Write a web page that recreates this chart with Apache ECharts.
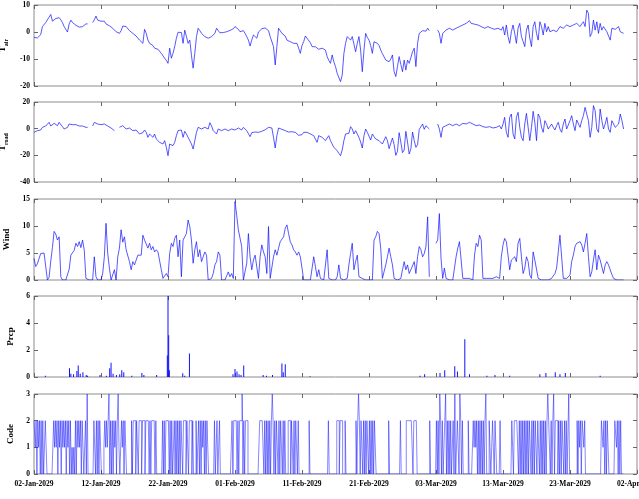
<!DOCTYPE html>
<html>
<head>
<meta charset="utf-8">
<script src="https://cdn.jsdelivr.net/npm/echarts@6/dist/echarts.min.js"></script>
<style>
  html, body { margin: 0; padding: 0; background: #fff; }
  #chart { width: 639px; height: 499px; }
</style>
</head>
<body>
<div id="chart"></div>
<script>
// time axis: days since 02-Jan-2029 00:00
const startDate = Date.UTC(2029, 0, 2)
const xTickDays = [0, 10, 20, 30, 40, 50, 60, 70, 80, 90]
const stepHours = 6          // T_air, T_road, Wind sampling
const codeStepHours = 3      // Code sampling

const tAirTicks = [-20, -10, 0, 10]
const tRoadTicks = [-40, -20, 0, 20]
const windTicks = [0, 5, 10, 15]
const prcpTicks = [0, 2, 4, 6]
const codeTicks = [0, 1, 2, 3]

// 6-hourly air temperature
const tAir = [
  -2,-2,-2.2,-2, -1,2,2.5,3.5, 4,5.5,6.5,4, 4.5,5,5,5.3, 4.5,3.5,2,1, 0,3,4.4,3.5, 3,2.5,2,1.8, 1.7,2,2.6,3, 3,null,null,3.5, 4.5,5.9,4.4,3.8,
  4,4.7,4,3, 2.8,2.3,1.8,1.4, 1,0.1,-0.3,-0.5, 0.5,2.2,2.2,2, 1.5,0.5,0,-0.5, -1,-1.5,-2,-3, -3.5,-4.2,1,-0.5, -3,-4.2,-4.8,-5, -6,-6.2,-6.4,-7, -7.9,-8.5,-9.7,-10.5,
  -11.6,-6,-9.7,-7.9, -5.4,-2.3,-0.1,0, -0.2,-4.2,0.7,-1.7, -4.2,-3,-8.6,-13.4, -7.9,-1.7,1.4,0.5, -0.5,-1,-1.7,-2, -2.3,-2,-1.7,-2.3, -0.5,1.4,0.5,-0.3, 0.1,-0.2,-0.5,0.1, 0.7,0.6,0.5,1.2,
  2,2.2,1,0.1, 0.5,0.5,-0.5,-1.7, -3,-5.2,-3,-1.1, -1.5,-2.3,0,0.7, 1.2,1.7,1.5,1, 0.5,-1.7,-1.1,-5.4, -12.2,-5.4,1.4,1.4, -0.5,-0.5,-1.5,-3, -3.5,-3.6,-4,-4.2, -4.2,-4.2,-6,-7.9,
  -5,-3.6,-1.5,-2.3, -3,-4,-5.4,-5.4, -5.5,-6,-6.4,-6.2, -6,-6.5,-6.7,-9.1, -10.5,-11.6,-8.5,-11, -12.8,-15.3,-16,-18.4, -16,-8,-4.2,-1.7, -1.1,-3,-1.7,-2.3, -7.3,-4.2,-1.7,-6.7, -14.7,-6.7,-0.5,-2,
  -3,-5,-7.9,-3.6, -4,-4.2,-5,-6.7, -8,-8.5,-10.4,-10.8, -11,-10,-8.5,-14.7, -16.5,-12.8,-9.1,-12, -14.7,-10.4,-14.1,-10.4, -11.6,-9.5,-7.3,-6, -12.8,-4.2,-0.5,0, 0.5,0.5,0.3,1.4, 0.5,null,null,null,
  null,0.7,-0.5,-4.2, -0.5,0.1,0.7,1, 1.4,1,0.7,1, 1.4,1.7,2,2.3, 2.6,2.9,3.2,3.7, 4.2,3.2,3,2.9, 2.8,2.6,2.2,2, 1.7,1.4,1.7,2, 1.5,1.4,1,1, 1.2,1.4,1,0.7,
  2,-1.1,2.6,-1.7, -4.2,0.1,2.6,-0.5, -4.2,1.4,3.2,-1.7, -3.5,-5.4,0.7,2.6, -2.3,-5.4,2,3.8, -0.5,-3,3.8,2, -1.1,3.2,0.1,2, 0.1,0.5,0.7,0.5, 0.1,1,2,1.5, 1.4,2,2.6,2,
  2,2.5,2.6,3, 3.2,2.5,2,3, 3.8,2,8.1,6.9, -1.7,-0.5,4.4,0.7, 3.8,-0.5,3.2,0.7, 2,1.4,0.1,0.7, -3,1.4,0.7,1, 1.4,2,0.1,-0.5, -0.5
]

// 6-hourly road temperature
const tRoad = [
  -2.75,-4,-1.5,-2, -1,1,0.5,2, 3.5,4.75,2,3.5, 4,3,2.25,4.75, 3.5,1.5,-0.25,-1.5, 1,3.5,2.25,3, 3.5,3,2.25,2, 1.5,2,3,1, 1,null,null,2, 4.75,4,3.5,2.25,
  3,4,3.5,3, 2,1.5,0.5,-0.25, -1.5,null,null,1, 1.5,2.25,1,-0.25, 0,0.5,-0.5,-1.5, -1.2,-1,-2.5,-4, -5.5,-3,-1,-2.75, -6.5,-4,-5,-6.5, -4,-7.75,-9,-10.25, -11,-11.5,-9,-14,
  -20.25,-11.5,-10.25,-12.75, -10.25,-5.25,-1.5,-1.2, -1,-6.5,-2,-4, -6.5,-5.25,-11.5,-15.25, -9,-2.75,1,0.3, -0.25,0.5,1,0.3, -0.25,4.5,2,-1.5, -1,-4,-0.25,-1, -1.5,-0.5,-0.25,-1, -1.5,-0.8,-0.25,-0.6,
  -1,0,0.5,-0.2, -1,1,-0.5,-1.5, -3,-6,-3,-2, -2.5,-2.75,-2.75,-2.75, -2,-1.5,-0.8,-0.25, 1,-0.25,0.5,-6.5, -14.5,-5.25,0.5,-0.25, -0.5,-1,-1.5,-2, -2.5,-2.75,-2.3,-2, -2.75,-3.5,-5,-6.5,
  -4.5,-2.75,-2,-2.75, -3.2,-4,-4.7,-5.25, -6.5,-10.25,-5.25,-6, -6.5,-7.5,-9,-7, -5.25,-9,-11.5,-14, -15,-16.5,-18.5,-20.25, -16,-9,-4,-2.75, -3.5,1.5,-0.25,-4, -1.5,-0.25,-6.5,-10, -14.5,-5.25,-0.25,-2.75,
  -4,-8.5,-4,-6, -7.75,-8.5,-9,-10, -11.5,-13,-6,-9, -15,-16,-7,-12, -20,-17,-3,-10, -18,-16,-2,-10, -19,-15,-2.5,-9, -14,-12,-0.5,1, 3.5,-0.5,2.25,1, -0.25,null,null,null,
  null,3.5,-0.25,-6.5, 1,1.5,2.25,3, 3.5,3,2.25,3, 3.5,3,2.25,3, 4,3.8,3.5,4, 4.75,4,3.5,3, 2.25,2.5,2.75,2, 1.5,1.2,1,1.2, 1.5,1,0.5,0.8, 1,1.5,2.25,-0.25,
  3.5,8.5,-2.75,-6.5, 8.5,11,-4,-7.75, 8.5,12.25,1,-6.5, -9,3.5,11.5,1, -9,1,13,4.75, -9,11,8.5,1, -2.75,6,3.5,-0.25, -1.5,3.5,1,-1, 2.25,4.75,-0.25,-2.75, 3.5,7.25,-0.25,-1.5,
  6,9.75,3.5,-1.5, 6.5,7.25,1,6, 9.75,16,17.25,6, -6.5,1,17.25,13.5, -0.25,-2.75,14.75,6, -0.25,3.5,8.5,-0.25, -2.75,6,7.25,1, -0.25,3.5,11,6, -0.25
]

// 6-hourly wind speed
const wind = [
  4,2.5,3,2.8, 4.9,5,5,5, 0,0.5,3.5,6, 9,8.5,7.4,8, 0.6,0,0,0, 0.3,2,4.6,4.3, 5.5,6.8,6.2,7.1, 6,7.4,5.5,0.3, 0,0,0,0, 4.3,0.6,0,0,
  0,1.2,4.3,10.5, 5,2.2,0,0.3, 1.9,0,4.3,5.9, 9.3,7,8,5.6, 5.9,3.4,1.9,3.4, 2.8,3.7,4.6,4.6, 4.6,8.3,7.4,7.7, 5.9,6.8,5.6,6.2, 5.2,5.6,5.2,4.9, 1.9,0.3,0,1.2,
  0.6,4.9,6.8,6.2, 7.7,8.3,4.3,7.4, 0.6,7.4,8,8.6, 11.1,9.9,7.4,3.1, 5.6,7.1,4.3,5.6, 3.4,4.3,5.2,4.6, 0,0,0.3,1.2, 2.8,3.4,5.2,4.6, 0,0,0,0, 1.5,0.6,1.2,0.3,
  14.5,12,9.3,9.3, 6.2,0,0.3,3.1, 8.6,4.3,1.9,3.7, 4.6,4.6,0.3,4.3, 6.5,5.2,4.3,1.2, 9.9,0.3,0.3,4.3, 5.6,4.6,5.9,7.1, 7.4,8,9.6,10.2, 8.6,7.1,6.5,5.6, 5.2,4.6,5.2,4.3,
  2.2,0,0,0, 0,0,0.3,4.3, 2.5,0.6,1.9,0.3, 0,0,0.3,5.6, 0.3,0,0,0, 0,0.6,2.8,0.3, 0,0,0,0.3, 2.8,4.9,6.8,1.9, 3.4,4.6,0.6,0.3, 0.3,0,0,0,
  0,0,0,7.4, 8,9,8.6,5.9, 0.3,0.3,2.8,4.3, 5.9,4.3,2.8,0.3, 0,0,0,0.3, 1.9,3.4,1.9,2.8, 1.2,1.9,2.2,3.4, 1.2,4.3,6.2,5.6, 4.3,4.9,6.2,11.7, 0.6,null,null,null,
  6.8,7.4,12.3,4, 0.3,2.2,0.3,0, 0,0,0,0.3, 4.3,5.9,7.1,3.7, 0.3,0.3,0.3,0.3, 0.3,0.3,0,4.6, 6.8,6.2,8.3,7.4, 0.3,0.3,0.3,0.3, 0.3,0.3,0.3,0.3, 0.6,0.3,0.3,4.3,
  6.5,7.7,7.1,4.6, 1.9,3.7,3.4,4.3, 3.4,6.8,7.7,4.3, 1.2,2.2,4.3,3.4, 0.9,0.3,5.2,3.7, 3.4,0.3,0,0, 0,0,0,0, 0.3,0.3,0.3,1.2, 2.2,5.2,8.3,8, 0.3,0.3,0.3,0.6,
  0.9,3.4,4.6,6.2, 6.8,6.5,7.1,6.5, 5.2,6.8,8.6,4.3, 0.6,1.5,3.7,5.6, 1.9,4.6,3.7,3.4, 1.2,2.8,3.4,2.8, 2.5,1,0.3,0, 0,0,0,0, 0
]

// precipitation events (day offset, amount); zero elsewhere
const prcpDays = [1.7, 5.3, 5.5, 5.9, 6.4, 6.6, 6.9, 7.3, 7.8, 8.0, 9.85, 10.8, 11.3, 11.5, 11.8, 12.3, 12.8, 13.1, 13.4, 14.6, 16.1, 16.4, 18.3,
  19.9, 20.0, 20.1, 20.2, 22.2, 22.5, 23.2, 29.7, 30.0, 30.3, 30.6, 30.9, 31.3, 34.2, 34.7, 35.6, 37.0, 37.2, 37.5, 41.2,
  57.6, 58.3, 60.6, 61.3, 62.8, 63.2, 64.3, 65.0, 67.6, 68.8, 71.0, 75.5, 76.4, 77.8, 78.5, 79.3, 84.5]
const prcpValues = [0.1, 0.65, 0.25, 0.2, 0.45, 0.85, 0.25, 0.35, 0.15, 0.1, 0.15, 0.1, 0.65, 1.05, 0.25, 0.15, 0.2, 0.5, 0.35, 0.1, 0.3, 0.15, 0.15,
  1.6, 6.0, 3.1, 0.5, 0.27, 0.1, 1.75, 0.2, 0.6, 0.4, 0.2, 0.15, 0.85, 0.15, 0.1, 0.15, 1.0, 0.35, 0.95, 0.05,
  0.1, 0.2, 0.3, 0.5, 0.8, 0.4, 2.8, 0.2, 0.1, 0.15, 0.1, 0.2, 0.3, 0.35, 0.2, 0.3, 0.1]

// 3-hourly weather code, one string per day
const codeDays = [
  '22120212','02020021','00000000','21212021','20212120','21202010','10202121','20210020','30000000','22020202',
  '10001212','12302020','21202310','02120210','00000202','22022022','20222022','22020222','20200000','00202022',
  '22020200','20202020','22022202','20222020','00201202','02120202','20000000','20020020','00000000','00000202',
  '22202022','23020222','00000000','00000022','22202020','20202320','20220202','20202000','22202202','02202000',
  '00000000','02000000','00000000','00000000','20000000','00222022','20002000','00000000','02023202','20202022',
  '02020202','20000000','00000000','20000000','00000020','00000222','22222022','22000000','00000000','02000000',
  '02020320','20023020','20200203','00220320','20000002','00000212','12020202','02023000','21012102','10000200',
  '00000000','00022022','22202020','20202020','22020202','20220202','02020232','20202302','22020202','20202003',
  '00000000','02021202','21200000','00000000','00000022','12020210','00000022','12020200','0'
]

const FONT = 'Liberation Serif'
const MON = ['Jan', 'Feb', 'Mar', 'Apr', 'May', 'Jun', 'Jul', 'Aug', 'Sep', 'Oct', 'Nov', 'Dec']
const LINE = '#1010ff'

function dayLabel(v) {
  const dt = new Date(startDate + v * 864e5)
  return String(dt.getUTCDate()).padStart(2, '0') + '-' + MON[dt.getUTCMonth()] + '-' + dt.getUTCFullYear()
}

function regular(values, hours) {
  return values.map((v, i) => [i * hours / 24, v])
}

const codeValues = codeDays.join('').split('').map(Number)

const panels = [
  { name: '{t|T}{s|air}', ticks: tAirTicks, top: 5, height: 81, data: regular(tAir, stepHours) },
  { name: '{t|T}{s|road}', ticks: tRoadTicks, top: 102, height: 80, data: regular(tRoad, stepHours) },
  { name: '{t|Wind}', ticks: windTicks, top: 199, height: 81, data: regular(wind, stepHours) },
  { name: '{t|Prcp}', ticks: prcpTicks, top: 296, height: 81, data: prcpDays.map((d, i) => [d, prcpValues[i]]), bar: true },
  { name: '{t|Code}', ticks: codeTicks, top: 394, height: 80, data: regular(codeValues, codeStepHours), step: 'middle' }
]

const tickStyle = { inside: true, length: 4, lineStyle: { color: '#666', width: 1 } }
const labelStyle = { fontFamily: FONT, fontWeight: 'bold', fontSize: 7.5, color: '#000' }

const grid = []
const xAxis = []
const yAxis = []
const series = []

panels.forEach((p, i) => {
  grid.push({
    left: 34, right: 2, top: p.top, height: p.height, outerBoundsMode: 'none',
    show: true, borderColor: '#8c8c8c', borderWidth: 1, backgroundColor: '#fff'
  })
  const xBase = {
    gridIndex: i, type: 'value', min: xTickDays[0], max: xTickDays[xTickDays.length - 1],
    interval: xTickDays[1] - xTickDays[0],
    axisLine: { show: false, onZero: false }, axisTick: tickStyle, splitLine: { show: false }
  }
  xAxis.push(Object.assign({}, xBase, {
    position: 'bottom',
    axisLabel: Object.assign({
      show: i === panels.length - 1, margin: 6, formatter: dayLabel,
      showMaxLabel: true, alignMinLabel: 'center', alignMaxLabel: 'center', hideOverlap: false
    }, labelStyle)
  }))
  xAxis.push(Object.assign({}, xBase, { position: 'top', axisLabel: { show: false } }))

  const yBase = {
    gridIndex: i, type: 'value', min: p.ticks[0], max: p.ticks[p.ticks.length - 1],
    interval: p.ticks[1] - p.ticks[0],
    axisLine: { show: false, onZero: false }, axisTick: tickStyle, splitLine: { show: false }
  }
  yAxis.push(Object.assign({}, yBase, {
    position: 'left',
    name: p.name, nameLocation: 'middle', nameGap: 19, nameRotate: 90,
    nameTextStyle: {
      rich: {
        t: { fontFamily: FONT, fontWeight: 'bold', fontSize: 9, color: '#000' },
        s: { fontFamily: FONT, fontWeight: 'bold', fontSize: 6, color: '#000', padding: [7, 0, 0, 0] }
      }
    },
    axisLabel: Object.assign({ margin: 4 }, labelStyle)
  }))
  yAxis.push(Object.assign({}, yBase, { position: 'right', axisLabel: { show: false } }))

  if (p.bar) {
    series.push({
      type: 'bar', xAxisIndex: 2 * i, yAxisIndex: 2 * i, data: p.data,
      barWidth: 1, itemStyle: { color: LINE }
    })
  } else {
    series.push({
      type: 'line', xAxisIndex: 2 * i, yAxisIndex: 2 * i, data: p.data,
      showSymbol: false, connectNulls: false, step: p.step || false,
      lineStyle: { color: LINE, width: p.step ? 0.5 : 0.7 }
    })
  }
})

const chart = echarts.init(document.getElementById('chart'))
chart.setOption({ animation: false, grid, xAxis, yAxis, series })
</script>
</body>
</html>
